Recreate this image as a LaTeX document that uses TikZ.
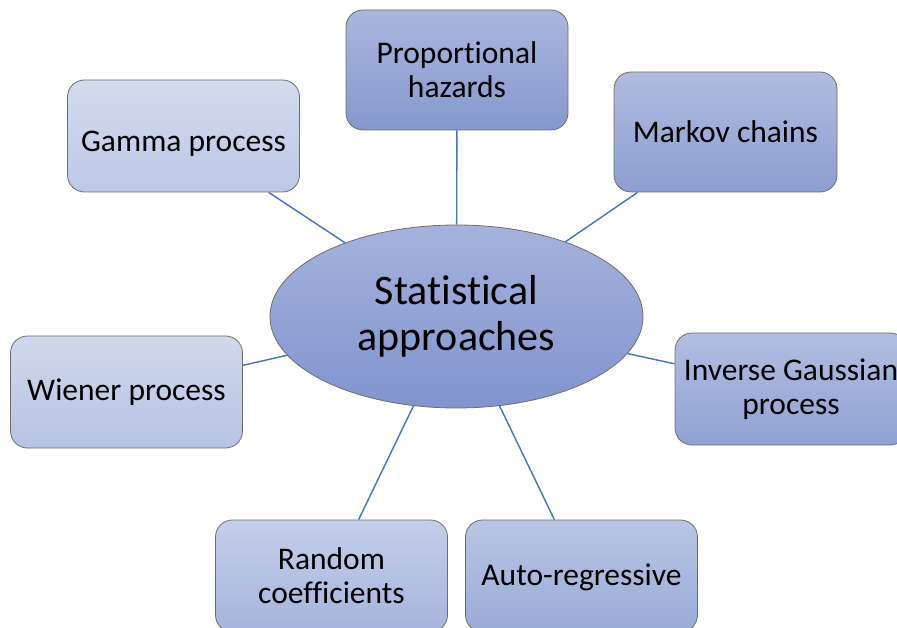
\documentclass[tikz,border=0pt]{standalone}
\usepackage{fontspec}
\setmainfont{Carlito}[Ligatures=NoCommon]
\usetikzlibrary{shapes.geometric}
\definecolor{linkblue}{HTML}{4472C4}
\definecolor{edgegray}{HTML}{6E6E6E}
\definecolor{statTop}{HTML}{A5B2DC}\definecolor{statBot}{HTML}{8194CE}
\definecolor{gamTop}{HTML}{D4DBEE}\definecolor{gamBot}{HTML}{BDC8E6}
\definecolor{propTop}{HTML}{AAB6DD}\definecolor{propBot}{HTML}{8598CF}
\definecolor{markTop}{HTML}{B0BCE0}\definecolor{markBot}{HTML}{8C9ED1}
\definecolor{wienTop}{HTML}{D0D8EC}\definecolor{wienBot}{HTML}{B8C3E3}
\definecolor{invTop}{HTML}{B2BEE1}\definecolor{invBot}{HTML}{90A2D3}
\definecolor{randTop}{HTML}{C5CEE9}\definecolor{randBot}{HTML}{A6B4DD}
\definecolor{autoTop}{HTML}{BAC5E5}\definecolor{autoBot}{HTML}{9AABD7}
\tikzset{
  item/.style={draw=edgegray, line width=0.8pt, rounded corners=17pt,
    minimum width=232pt, minimum height=112pt, align=center,
    font=\fontsize{31.5}{34}\selectfont, inner sep=2pt},
  link/.style={draw=linkblue, line width=1.4pt},
  shade pair/.style 2 args={top color=#1, bottom color=#2},
}
\begin{document}
\begin{tikzpicture}[x=1pt,y=-1pt]
  \useasboundingbox (0,0) rectangle (897,628);
  \clip (0,0) rectangle (897,628);
  \fill[white] (0,0) rectangle (897,628);

  \node[ellipse, draw=edgegray, line width=0.8pt, minimum width=373pt, minimum height=183pt,
        shade pair={statTop}{statBot}, align=center, inner sep=0pt,
        font=\fontsize{42}{46}\selectfont] (stat) at (456.5,316.5) {Statistical\\approaches};

  \node[item, shade pair={gamTop}{gamBot}] (gamma)  at (183.5,136)   {\rule{0pt}{36pt}Gamma process};
  \node[item, minimum width=222pt, minimum height=120pt, shade pair={propTop}{propBot}] (prop) at (457,70) {Proportional\\hazards};
  \node[item, minimum width=223pt, minimum height=120pt, shade pair={markTop}{markBot}] (markov) at (725.5,132) {Markov chains};
  \node[item, shade pair={wienTop}{wienBot}] (wiener) at (126.5,392) {Wiener process};
  \node[item, shade pair={invTop}{invBot}] (inverse) at (791,389) {Inverse Gaussian\\process};
  \node[item, shade pair={randTop}{randBot}] (random) at (331.5,576) {Random\\coefficients};
  \node[item, shade pair={autoTop}{autoBot}] (auto)   at (581.5,576) {\rule{0pt}{24pt}Auto-regressive};

  \draw[link] (gamma) -- (stat);
  \draw[link] (prop) -- (stat);
  \draw[link] (markov) -- (stat);
  \draw[link] (wiener) -- (stat);
  \draw[link] (inverse) -- (stat);
  \draw[link] (random) -- (stat);
  \draw[link] (auto) -- (stat);
\end{tikzpicture}
\end{document}
